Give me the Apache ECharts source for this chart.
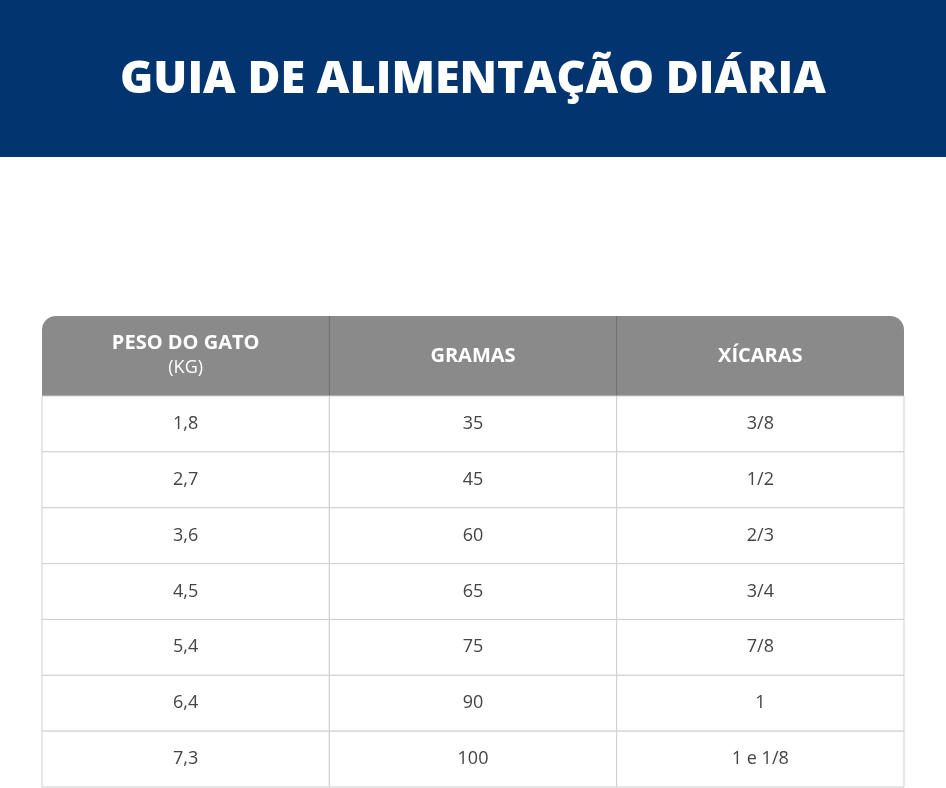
<!DOCTYPE html>
<html><head><meta charset="utf-8">
<script src="https://cdn.jsdelivr.net/npm/echarts@6/dist/echarts.min.js"></script>
<style>html,body{margin:0;padding:0;background:#fff}#c{width:946px;height:788px}</style>
</head><body><div id="c"></div>
<script>
const title = 'GUIA DE ALIMENTAÇÃO DIÁRIA';
const headers = ['PESO DO GATO', 'GRAMAS', 'XÍCARAS'];
const headerSub = '(KG)';
const peso = ['1,8','2,7','3,6','4,5','5,4','6,4','7,3'];
const gramas = ['35','45','60','65','75','90','100'];
const xicaras = ['3/8','1/2','2/3','3/4','7/8','1','1 e 1/8'];

const cols = ['c0','c1','c2'];
const data = [];
[peso, gramas, xicaras].forEach((arr, c) => arr.forEach((v, r) => data.push([c, r, v])));

const chart = echarts.init(document.getElementById('c'));
const L = 42, R = 904, HT = 316, HB = 396;
const cw = (R - L) / 3;
const g = [
  {type:'rect', shape:{x:0,y:0,width:946,height:157}, style:{fill:'#023470'}},
  {type:'text', x:473, y:80, style:{text:title, fill:'#fff', font:'900 45px "Open Sans", Lato, sans-serif', align:'center', verticalAlign:'middle'}},
  {type:'rect', shape:{x:L,y:HT,width:R-L,height:HB-HT,r:[14,14,0,0]}, style:{fill:'#8a8a8a'}},
  {type:'line', shape:{x1:L+cw,y1:HT,x2:L+cw,y2:HB}, style:{stroke:'#6f6f6f',lineWidth:1}},
  {type:'line', shape:{x1:L+2*cw,y1:HT,x2:L+2*cw,y2:HB}, style:{stroke:'#6f6f6f',lineWidth:1}},
  {type:'text', x:L+cw/2, y:343, style:{text:headers[0], fill:'#fff', font:'bold 20px "Open Sans", sans-serif', align:'center', verticalAlign:'middle'}},
  {type:'text', x:L+cw/2, y:368, style:{text:headerSub, fill:'#fff', font:'18px "Open Sans", sans-serif', align:'center', verticalAlign:'middle'}},
  {type:'text', x:L+cw*1.5, y:356, style:{text:headers[1], fill:'#fff', font:'bold 20px "Open Sans", sans-serif', align:'center', verticalAlign:'middle'}},
  {type:'text', x:L+cw*2.5, y:356, style:{text:headers[2], fill:'#fff', font:'bold 20px "Open Sans", sans-serif', align:'center', verticalAlign:'middle'}}
];
chart.setOption({
  animation:false,
  grid:{left:L, right:946-R, top:HB, bottom:1},
  xAxis:{type:'category', data:cols, show:false},
  yAxis:{type:'category', data:peso.map((_,i)=>i), inverse:true, show:false},
  graphic:g,
  series:[{
    type:'custom',
    data:data,
    renderItem:function(params, api){
      const p = api.coord([api.value(0), api.value(1)]);
      const s = api.size([1,1]);
      return {type:'group', children:[
        {type:'rect', shape:{x:p[0]-s[0]/2, y:p[1]-s[1]/2, width:s[0], height:s[1]},
         style:{fill:'#fff', stroke:'#cfcfcf', lineWidth:1}},
        {type:'text', x:p[0], y:p[1], style:{text:data[params.dataIndex][2], fill:'#444',
         font:'18px "Open Sans", sans-serif', align:'center', verticalAlign:'middle'}}
      ]};
    }
  }]
});
</script></body></html>
